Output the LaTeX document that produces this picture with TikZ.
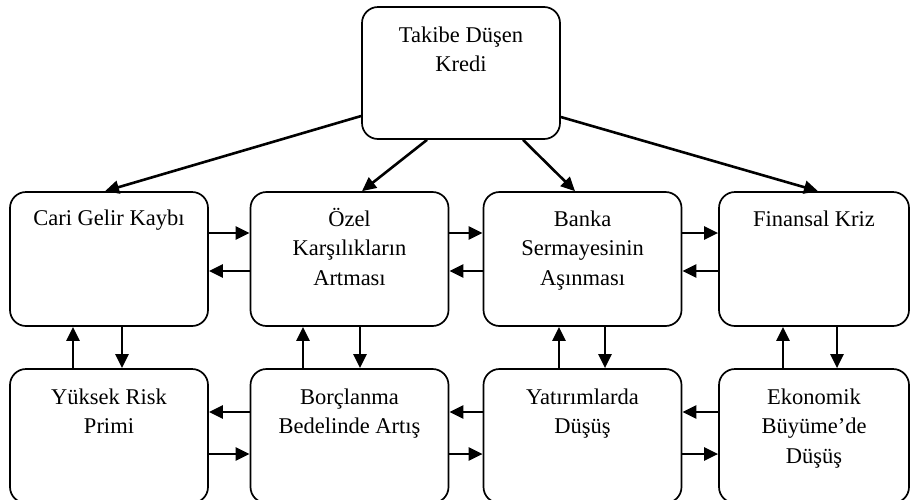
\documentclass[tikz,border=0pt]{standalone}
\usepackage{fontspec}
\setmainfont{Liberation Serif}
\usetikzlibrary{arrows.meta}

% text at the top of a box, aligned on its first line
\newcommand{\boxtext}[1]{\parbox[t]{196pt}{\centering #1}}

\tikzset{
    box/.style={draw, line width=1.7pt, rounded corners=16pt, inner sep=0pt,
        minimum width=198pt, minimum height=134pt},
    lbl/.style={anchor=base, inner sep=0pt,
        font=\fontsize{22.5}{29.5}\selectfont},
    arr/.style={line width=2.6pt, -{Triangle[length=14pt,width=13pt]}}
}

\begin{document}
\begin{tikzpicture}[x=1pt, y=-1pt]
    \useasboundingbox (0,0) rectangle (910,499);

    % Boxes
    \node[box, minimum height=132pt] (kredi) at (461,73) {};
    \node[box] (cari) at (109,259) {};
    \node[box] (ozel) at (349.5,259) {};
    \node[box] (banka) at (582.5,259) {};
    \node[box, minimum width=190pt] (kriz) at (814,259) {};
    \node[box] (risk) at (109,436) {};
    \node[box] (borc) at (349.5,436) {};
    \node[box] (yatirim) at (582.5,436) {};
    \node[box, minimum width=190pt] (buyume) at (814,436) {};

    % Texts
    \node[lbl] (kredi-t) at ([yshift=-36pt]kredi.north) {\boxtext{Takibe Düşen\\Kredi}};
    \node[lbl] (cari-t) at ([yshift=-34pt]cari.north) {\boxtext{Cari Gelir Kaybı}};
    \node[lbl] (ozel-t) at ([yshift=-35pt]ozel.north) {\boxtext{Özel\\Karşılıkların\\Artması}};
    \node[lbl] (banka-t) at ([yshift=-35pt]banka.north) {\boxtext{Banka\\Sermayesinin\\Aşınması}};
    \node[lbl] (kriz-t) at ([yshift=-35pt]kriz.north) {\boxtext{Finansal Kriz}};
    \node[lbl] (risk-t) at ([yshift=-36pt]risk.north) {\boxtext{Yüksek Risk\\Primi}};
    \node[lbl] (borc-t) at ([yshift=-36pt]borc.north) {\boxtext{Borçlanma\\Bedelinde Artış}};
    \node[lbl] (yatirim-t) at ([yshift=-36pt]yatirim.north) {\boxtext{Yatırımlarda\\Düşüş}};
    \node[lbl] (buyume-t) at ([yshift=-36pt]buyume.north) {\boxtext{Ekonomik\\Büyüme’de\\Düşüş}};

    % From the top box
    \draw[arr] ([yshift=-43pt]kredi.west) -- ([xshift=-4pt]cari.north);
    \draw[arr] ([xshift=-34pt]kredi.south) -- ([xshift=12.5pt]ozel.north);
    \draw[arr] ([xshift=62pt]kredi.south) -- ([xshift=-7.5pt]banka.north);
    \draw[arr] ([yshift=-44pt]kredi.east) -- ([xshift=4pt]kriz.north);

    % Middle row
    \draw[arr] ([yshift=26pt]cari.east) -- ([yshift=26pt]ozel.west);
    \draw[arr] ([yshift=-12pt]ozel.west) -- ([yshift=-12pt]cari.east);
    \draw[arr] ([yshift=26pt]ozel.east) -- ([yshift=26pt]banka.west);
    \draw[arr] ([yshift=-12pt]banka.west) -- ([yshift=-12pt]ozel.east);
    \draw[arr] ([yshift=26pt]banka.east) -- ([yshift=26pt]kriz.west);
    \draw[arr] ([yshift=-12pt]kriz.west) -- ([yshift=-12pt]banka.east);

    % Bottom row
    \draw[arr] ([yshift=24pt]borc.west) -- ([yshift=24pt]risk.east);
    \draw[arr] ([yshift=-18pt]risk.east) -- ([yshift=-18pt]borc.west);
    \draw[arr] ([yshift=24pt]yatirim.west) -- ([yshift=24pt]borc.east);
    \draw[arr] ([yshift=-18pt]borc.east) -- ([yshift=-18pt]yatirim.west);
    \draw[arr] ([yshift=24pt]buyume.west) -- ([yshift=24pt]yatirim.east);
    \draw[arr] ([yshift=-18pt]yatirim.east) -- ([yshift=-18pt]buyume.west);

    % Between the rows
    \draw[arr] ([xshift=-36pt]risk.north) -- ([xshift=-36pt]cari.south);
    \draw[arr] ([xshift=13pt]cari.south) -- ([xshift=13pt]risk.north);
    \draw[arr] ([xshift=-46.5pt]borc.north) -- ([xshift=-46.5pt]ozel.south);
    \draw[arr] ([xshift=10.5pt]ozel.south) -- ([xshift=10.5pt]borc.north);
    \draw[arr] ([xshift=-23.5pt]yatirim.north) -- ([xshift=-23.5pt]banka.south);
    \draw[arr] ([xshift=22.5pt]banka.south) -- ([xshift=22.5pt]yatirim.north);
    \draw[arr] ([xshift=-31pt]buyume.north) -- ([xshift=-31pt]kriz.south);
    \draw[arr] ([xshift=23pt]kriz.south) -- ([xshift=23pt]buyume.north);
\end{tikzpicture}
\end{document}
